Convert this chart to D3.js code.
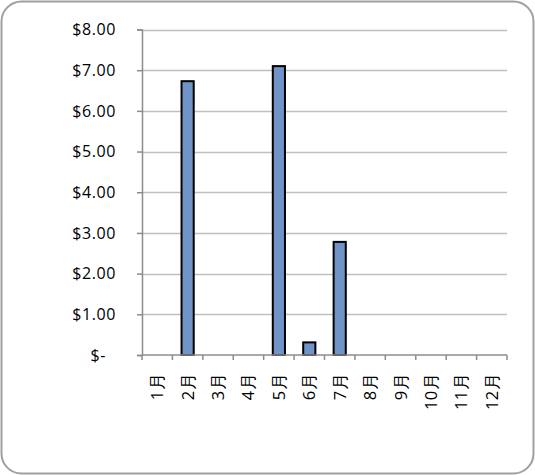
<!DOCTYPE html>
<html><head><meta charset="utf-8">
<script src="https://cdn.jsdelivr.net/npm/d3@7"></script>
<style>body{margin:0;background:#fff}svg{display:block}</style>
</head><body>
<script>
const months = ["1月","2月","3月","4月","5月","6月","7月","8月","9月","10月","11月","12月"];
const values = [0, 6.73, 0, 0, 7.10, 0.31, 2.78, 0, 0, 0, 0, 0];
const yTicks = [0,1,2,3,4,5,6,7,8];

(function(){
const W = 535, H = 475;
const svg = d3.select("body").append("svg").attr("width", W).attr("height", H);
svg.append("rect").attr("x",1.5).attr("y",1.5).attr("width",W-3).attr("height",H-3)
  .attr("rx",20).attr("ry",20).attr("fill","#fff").attr("stroke","#a0a0a0").attr("stroke-width",2);

const mLeft = 142, mRight = 507, mTop = 29.5, mBottom = 355;
const x = d3.scaleBand().domain(months).range([mLeft, mRight]).paddingInner(0.6).paddingOuter(0.3);
const xb = d3.scaleBand().domain(months).range([mLeft, mRight]);
const y = d3.scaleLinear().domain([0, 8]).range([mBottom, mTop]);
const font = "'Open Sans', 'Liberation Sans', sans-serif";

// gridlines
svg.append("g").selectAll("line").data(yTicks.filter(d=>d>0)).join("line")
  .attr("x1", mLeft).attr("x2", mRight).attr("y1", d=>Math.round(y(d))+0.5).attr("y2", d=>Math.round(y(d))+0.5)
  .attr("stroke","#c0c0c0").attr("stroke-width",1.5);

// y axis
const yAxis = d3.axisLeft(y).tickValues(yTicks).tickSize(5).tickPadding(21)
  .tickFormat(d => d === 0 ? "$-" : "$" + d.toFixed(2));
const gy = svg.append("g").attr("transform",`translate(${mLeft},0)`).call(yAxis);
gy.select(".domain").attr("stroke","#8c8c8c").attr("stroke-width",1.5);
gy.selectAll(".tick line").attr("stroke","#8c8c8c").attr("stroke-width",1.5);
gy.selectAll("text").attr("font-family",font).attr("font-size",16).attr("letter-spacing","0.6px").attr("fill","#000");
gy.selectAll(".tick").filter(d=>d===0).select("text").attr("dx",-10);

// bars
svg.append("g").selectAll("rect").data(months.map((m,i)=>({m, v: values[i]})).filter(d=>d.v>0)).join("rect")
  .attr("x", d=>x(d.m)).attr("width", x.bandwidth())
  .attr("y", d=>y(d.v)).attr("height", d=>y(0)-y(d.v))
  .attr("fill","#7093c8").attr("stroke","#000").attr("stroke-width",2);

// x axis
const gx = svg.append("g").attr("transform",`translate(0,${mBottom})`);
gx.append("line").attr("x1",mLeft).attr("x2",mRight).attr("y1",0).attr("y2",0).attr("stroke","#8c8c8c").attr("stroke-width",1.5);
const bounds = months.map(m=>xb(m)).concat([mRight]);
gx.selectAll("line.t").data(bounds).join("line").attr("class","t")
  .attr("x1",d=>d).attr("x2",d=>d).attr("y1",0).attr("y2",5).attr("stroke","#8c8c8c").attr("stroke-width",1.5);
gx.selectAll("text").data(months).join("text")
  .attr("transform", d=>`translate(${xb(d)+xb.bandwidth()/2+6},${18}) rotate(-90)`)
  .attr("text-anchor","end").attr("font-family",font).attr("font-size",16.5).attr("letter-spacing","0.4px").attr("fill","#000")
  .text(d=>d);
})();
</script>
</body></html>
